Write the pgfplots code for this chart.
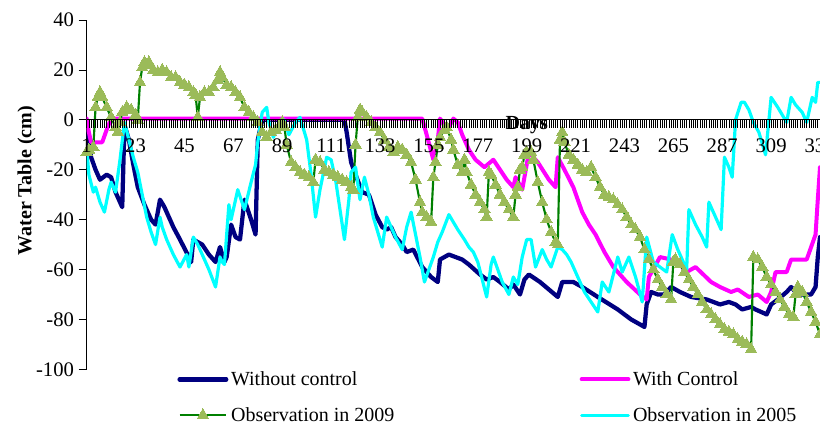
\documentclass[border=0pt]{standalone}
\usepackage{fontspec}
\setmainfont{Liberation Serif}
\usepackage{pgfplots}
\pgfplotsset{compat=1.18}
\definecolor{navyc}{RGB}{0,0,128}
\definecolor{magc}{RGB}{255,0,255}
\definecolor{cyanc}{RGB}{0,255,255}
\definecolor{dgreen}{RGB}{0,128,0}
\definecolor{olivec}{RGB}{155,187,89}
\begin{document}
\begin{tikzpicture}
\begin{axis}[name=ax, at={(0pt,0pt)}, anchor=south west,
  scale only axis, width=550pt, height=262pt,
  xmin=1, xmax=331, ymin=-100, ymax=40,
  axis x line=none, axis y line=left,
  axis line style={-, line width=0.8pt},
  every outer y axis line/.append style={-},
  tick align=outside, major tick length=6pt,
  tick style={black, line width=0.6pt},
  xtick=\empty,
  ytick={-100,-80,...,40},
  /pgf/number format/assume math mode=true,
  tick label style={font=\fontsize{15.5}{18}\selectfont},
  ylabel={Water Table (cm)},
  ylabel style={at={(axis description cs:-0.082,0.54)}, anchor=center, rotate=0, font=\bfseries\fontsize{15}{18}\selectfont},
  legend columns=2,
  legend cell align=left,
  legend style={at={(axis description cs:0.118,0.01)}, anchor=north west, draw=none, fill=none,
    font=\fontsize{15}{18}\selectfont, row sep=11pt,
    /tikz/every even column/.append style={column sep=137pt}},
  legend image code/.code={\draw[mark repeat=2,mark phase=2,#1] plot coordinates {(0pt,0pt) (17.5pt,0pt) (35pt,0pt)};},
  line join=round,
]
\addplot[navyc, line width=3.2pt, line cap=round, mark=none] coordinates {
(1,-5) (3,-15) (5,-20) (7,-24) (10,-22) (12,-23) (14,-29) (17,-35) (18,-2) (20,-8) (22,-18) (24,-27) (27,-34) (30,-40) (32,-42) (34,-32) (36,-35) (40,-43) (43,-48) (47,-55) (48,-57) (49,-48) (53,-50) (56,-54) (59,-57) (61,-51) (63,-57) (64,-55) (66,-42) (68,-47) (70,-48) (72,-32) (75,-40) (77,-46) (78,-8) (80,0) (117,0) (118,-5) (120,-17) (122,-22) (125,-29) (128,-30) (131,-38) (134,-43) (136,-44) (138,-43) (140,-47) (143,-50) (145,-53) (148,-52) (152,-59) (156,-63) (159,-65) (160,-56) (164,-54) (167,-55) (170,-56) (173,-58) (178,-62) (181,-64) (184,-63) (187,-65) (191,-68) (193,-66) (196,-70) (198,-64) (200,-62) (205,-65) (209,-68) (213,-71) (215,-65) (220,-65) (224,-67) (231,-71) (240,-76) (246,-80) (252,-83) (253,-74) (255,-69) (258,-70) (261,-70) (264,-67) (268,-69) (273,-71) (280,-72) (286,-74) (290,-73) (293,-74) (296,-76) (300,-75) (302,-76) (307,-78) (309,-74) (312,-72) (316,-69) (318,-67) (321,-70) (324,-70) (327,-70) (329,-67) (330,-55) (331,-47)
};
\addlegendentry{Without control}
\addplot[magc, line width=3pt, line cap=round, mark=none] coordinates {
(1,0.5) (2,-5) (3,-9) (8,-9) (10,-4) (12,0.5) (152,0.5) (154,-6) (157,-16) (159,-8) (160,0.5) (162,-2) (164,-3) (166,0.5) (168,-1) (170,-6) (173,-12) (176,-16) (180,-19) (184,-16) (187,-20) (190,-24) (193,-27) (194,-23) (197,-28) (200,-13) (204,-17) (209,-24) (212,-27) (213,-15) (216,-20) (220,-27) (224,-37) (227,-42) (230,-46) (234,-53) (238,-59) (244,-65) (250,-70) (253,-72) (254,-63) (259,-55) (264,-56) (268,-58) (271,-61) (275,-59) (282,-65) (286,-67) (291,-69) (294,-68) (299,-71) (303,-70) (307,-73) (309,-69) (311,-61) (316,-61) (318,-56) (325,-56) (327,-51) (329,-46) (330,-32) (331,-19)
};
\addlegendentry{With Control}
\addplot[dgreen, line width=1.6pt, mark=triangle*, mark size=5pt, mark options={fill=olivec, draw=olivec, line width=0pt}] coordinates {
(1,-13) (2,-12) (4,-11) (5,5) (6,9) (7,11) (8,9) (10,5) (12,1) (14,-3) (15,-5) (16,-1) (17,3) (19,5) (21,4) (23,2) (24,0) (25,15) (26,21) (27,23) (28,22) (29,23) (31,20) (33,19) (35,20) (37,19) (39,17) (41,17) (43,15) (45,14) (47,13) (49,11) (50,10) (51,1) (52,9) (54,11) (56,11) (58,13) (60,16) (61,19) (62,17) (64,14) (66,13) (68,11) (70,9) (72,5) (74,3) (76,1) (78,-1) (80,-5) (82,-7) (84,-5) (86,-4) (88,-2) (89,-1) (90,-3) (91,-10) (93,-17) (95,-19) (97,-21) (99,-22) (101,-23) (103,-25) (104,-16) (106,-17) (108,-20) (110,-21) (112,-22) (114,-23) (116,-24) (118,-25) (120,-27) (121,-28) (122,-10) (123,1) (124,4) (125,3) (127,1) (129,-1) (131,-3) (133,-5) (135,-8) (137,-11) (139,-13) (141,-11) (143,-12) (145,-14) (147,-17) (149,-24) (151,-33) (152,-37) (154,-39) (156,-41) (157,-23) (158,-17) (159,-10) (160,-7) (162,-4) (163,-3) (165,-8) (166,-12) (168,-18) (170,-21) (171,-16) (172,-21) (174,-26) (176,-30) (178,-33) (180,-36) (181,-39) (182,-21) (183,-22) (185,-26) (187,-30) (189,-33) (191,-36) (193,-39) (194,-30) (195,-27) (196,-20) (197,-19) (198,-14) (199,-13) (201,-13) (202,-16) (204,-25) (206,-33) (208,-40) (210,-45) (212,-49) (213,-50) (214,-8) (215,-5) (216,-9) (218,-14) (220,-16) (222,-18) (224,-20) (226,-21) (228,-19) (230,-23) (232,-27) (234,-30) (236,-31) (238,-32) (240,-34) (242,-36) (244,-39) (246,-42) (248,-44) (250,-47) (252,-52) (254,-56) (256,-60) (258,-64) (260,-67) (262,-70) (264,-72) (265,-57) (266,-56) (268,-58) (270,-61) (272,-64) (274,-67) (276,-70) (278,-73) (280,-76) (282,-78) (284,-80) (286,-82) (288,-84) (290,-85) (292,-86) (294,-88) (296,-89) (298,-90) (300,-92) (301,-55) (303,-56) (305,-59) (307,-63) (309,-66) (311,-69) (313,-72) (315,-75) (317,-78) (319,-79) (320,-70) (321,-67) (323,-69) (325,-73) (327,-77) (329,-81) (331,-86)
};
\addlegendentry{Observation in 2009}
\addplot[cyanc, line width=2.4pt, line cap=round, mark=none] coordinates {
(1,-11) (2,-22) (4,-29) (5,-27) (7,-33) (9,-37) (11,-28) (12,-25) (14,-29) (16,-16) (18,-1) (20,-8) (22,-15) (24,-21) (26,-30) (28,-39) (30,-45) (32,-50) (34,-39) (35,-43) (37,-48) (40,-54) (43,-59) (46,-54) (47,-59) (49,-47) (51,-50) (53,-54) (56,-60) (59,-67) (61,-55) (62,-57) (63,-58) (65,-34) (66,-40) (69,-28) (72,-36) (75,-25) (77,-18) (78,-9) (80,3) (82,5) (83,-1) (85,-7) (88,-1) (90,0) (92,-6) (95,-1) (97,1) (100,-8) (102,-22) (104,-39) (106,-28) (109,-15) (111,-16) (113,-24) (115,-36) (117,-48) (119,-32) (120,-21) (122,-19) (124,-32) (126,-23) (128,-30) (130,-39) (132,-45) (134,-51) (136,-39) (138,-43) (140,-47) (143,-52) (145,-43) (147,-37) (149,-46) (151,-55) (153,-65) (155,-60) (157,-55) (159,-49) (161,-45) (164,-38) (166,-41) (168,-44) (171,-48) (173,-51) (175,-53) (177,-57) (179,-64) (181,-71) (183,-58) (184,-55) (186,-60) (188,-65) (191,-70) (193,-63) (195,-66) (197,-55) (199,-48) (201,-48) (203,-59) (206,-52) (208,-56) (210,-59) (213,-51) (215,-52) (217,-54) (219,-57) (222,-63) (225,-69) (228,-73) (231,-77) (233,-65) (236,-69) (240,-55) (242,-61) (245,-55) (248,-63) (251,-73) (253,-47) (256,-57) (259,-59) (262,-61) (264.5,-46) (267,-52) (269,-56) (271,-60) (272,-36) (275,-42) (278,-47) (280,-51) (281,-33) (284,-39) (286.5,-44) (288,-15) (290,-19) (291.5,-23) (293,0) (295.5,7) (297,7) (299,4) (301,-1) (303.5,-5) (306.5,-14) (309,9) (312,5) (314,2) (316,-1) (318,9) (320,6) (323,3) (325,-1) (327.5,9) (329,7) (330,15) (331,15)
};
\addlegendentry{Observation in 2005}
\end{axis}
\begin{axis}[at={(0pt,187.143pt)}, anchor=south west,
  scale only axis, width=550pt, height=74.857pt,
  xmin=1, xmax=331, ymin=0, ymax=1,
  axis x line=bottom, axis y line=none,
  axis line style={-, line width=0.8pt},
  every outer x axis line/.append style={-},
  tick align=outside, major tick length=6pt, minor tick length=6pt,
  tick style={black, line width=0.6pt},
  minor tick style={black, line width=0.45pt},
  xtick={1,23,...,331}, minor x tick num=21,
  ytick=\empty,
  /pgf/number format/assume math mode=true,
  tick label style={font=\fontsize{15.5}{18}\selectfont},
  xticklabel style={yshift=-5pt},
  xlabel={Days},
  xlabel style={at={(axis description cs:0.6,-0.05)}, anchor=center, font=\bfseries\fontsize{15}{18}\selectfont},
]
\end{axis}
\pgfresetboundingbox
\path[use as bounding box] (-65pt,-45pt) rectangle (550pt,277pt);
\end{tikzpicture}
\end{document}
